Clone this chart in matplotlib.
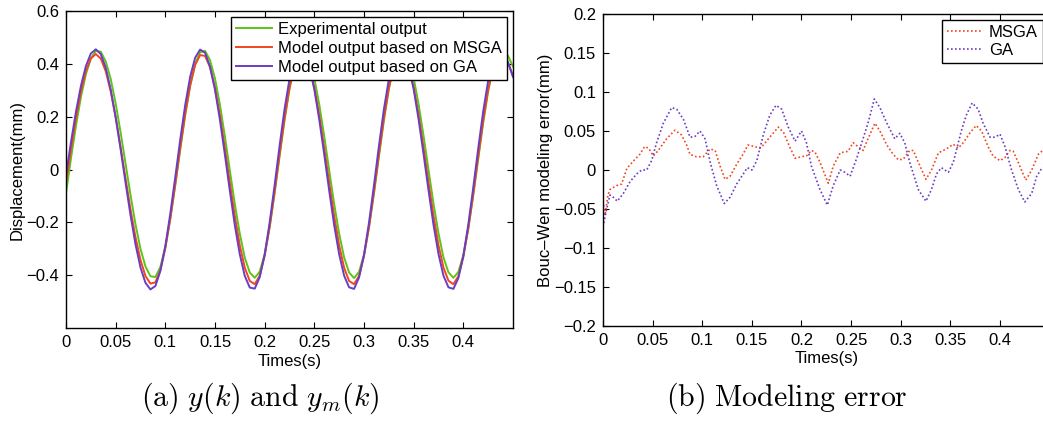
import numpy as np
import matplotlib
matplotlib.use("Agg")
import matplotlib.pyplot as plt
from matplotlib.ticker import FuncFormatter

plt.rcParams['font.family'] = ['Liberation Sans', 'DejaVu Sans']
plt.rcParams['mathtext.fontset'] = 'cm'

# ---------------- data ----------------
time_s = np.linspace(0.0, 0.45, 91)

experimental = [
    -0.090, 0.042, 0.165, 0.274, 0.360, 0.420, 0.449, 0.446, 0.409, 0.343,
    0.250, 0.140, 0.021, -0.098, -0.208, -0.301, -0.367, -0.404, -0.407, -0.369,
    -0.293, -0.187, -0.060, 0.075, 0.205, 0.316, 0.399, 0.444, 0.449, 0.414,
    0.344, 0.244, 0.124, -0.005, -0.132, -0.244, -0.334, -0.390, -0.410, -0.387,
    -0.321, -0.219, -0.091, 0.049, 0.186, 0.305, 0.394, 0.444, 0.450, 0.415,
    0.345, 0.245, 0.125, -0.004, -0.131, -0.243, -0.333, -0.390, -0.411, -0.388,
    -0.322, -0.220, -0.092, 0.048, 0.185, 0.304, 0.393, 0.443, 0.450, 0.416,
    0.346, 0.246, 0.126, -0.003, -0.130, -0.242, -0.333, -0.389, -0.410, -0.388,
    -0.324, -0.224, -0.098, 0.040, 0.176, 0.296, 0.388, 0.440, 0.452, 0.430,
    0.390,
]

model_msga = [
    -0.050, 0.076, 0.194, 0.294, 0.372, 0.420, 0.437, 0.420, 0.372, 0.296,
    0.198, 0.085, -0.035, -0.152, -0.257, -0.343, -0.403, -0.432, -0.427, -0.381,
    -0.298, -0.185, -0.054, 0.083, 0.211, 0.319, 0.396, 0.433, 0.430, 0.387,
    0.309, 0.204, 0.079, -0.052, -0.178, -0.288, -0.372, -0.422, -0.434, -0.402,
    -0.327, -0.217, -0.084, 0.058, 0.194, 0.309, 0.392, 0.433, 0.431, 0.388,
    0.310, 0.205, 0.080, -0.051, -0.177, -0.287, -0.372, -0.422, -0.434, -0.403,
    -0.328, -0.218, -0.085, 0.057, 0.193, 0.308, 0.391, 0.433, 0.431, 0.389,
    0.311, 0.206, 0.081, -0.050, -0.176, -0.287, -0.371, -0.421, -0.434, -0.404,
    -0.331, -0.223, -0.092, 0.049, 0.186, 0.302, 0.387, 0.431, 0.436, 0.405,
    0.355,
]

model_ga = [
    -0.020, 0.103, 0.218, 0.316, 0.391, 0.439, 0.455, 0.437, 0.385, 0.303,
    0.197, 0.076, -0.051, -0.174, -0.284, -0.371, -0.429, -0.454, -0.441, -0.384,
    -0.290, -0.167, -0.029, 0.113, 0.244, 0.351, 0.423, 0.454, 0.442, 0.389,
    0.302, 0.187, 0.055, -0.082, -0.212, -0.322, -0.403, -0.447, -0.451, -0.408,
    -0.322, -0.201, -0.060, 0.089, 0.228, 0.342, 0.420, 0.454, 0.443, 0.390,
    0.303, 0.188, 0.056, -0.081, -0.211, -0.321, -0.402, -0.446, -0.452, -0.409,
    -0.323, -0.202, -0.061, 0.088, 0.227, 0.341, 0.419, 0.454, 0.444, 0.391,
    0.304, 0.189, 0.057, -0.080, -0.210, -0.320, -0.402, -0.446, -0.452, -0.411,
    -0.327, -0.208, -0.068, 0.080, 0.220, 0.336, 0.416, 0.452, 0.448, 0.405,
    0.350,
]

msga_err_t = [
    0.000, 0.002, 0.005, 0.007, 0.0138, 0.0188, 0.024, 0.031, 0.037, 0.042,
    0.046, 0.0507, 0.0557, 0.064, 0.0725, 0.079, 0.084, 0.0877, 0.094, 0.101,
    0.108, 0.113, 0.118, 0.123, 0.128, 0.135, 0.141, 0.146, 0.153, 0.158,
    0.1615, 0.168, 0.1767, 0.182, 0.188, 0.1935, 0.200, 0.205, 0.210, 0.2136,
    0.2186, 0.227, 0.232, 0.239, 0.247, 0.252, 0.257, 0.262, 0.267, 0.274,
    0.279, 0.286, 0.2925, 0.2976, 0.3026, 0.309, 0.3127, 0.3177, 0.3254, 0.331,
    0.338, 0.346, 0.353, 0.358, 0.363, 0.370, 0.376, 0.3815, 0.388, 0.393,
    0.400, 0.405, 0.410, 0.4134, 0.420, 0.426, 0.432, 0.4386, 0.443, 0.450,
]
msga_err = [
    -0.040, -0.058, -0.032, -0.025, -0.020, -0.018, 0.002, 0.012, 0.020, 0.030,
    0.028, 0.018, 0.025, 0.040, 0.051, 0.045, 0.033, 0.020, 0.017, 0.017,
    0.027, 0.025, 0.005, -0.012, -0.008, 0.008, 0.020, 0.032, 0.030, 0.028,
    0.032, 0.042, 0.055, 0.048, 0.030, 0.015, 0.017, 0.018, 0.025, 0.023,
    0.010, -0.017, 0.005, 0.022, 0.024, 0.035, 0.030, 0.025, 0.040, 0.060,
    0.050, 0.032, 0.020, 0.013, 0.014, 0.025, 0.025, 0.010, -0.012, 0.000,
    0.022, 0.027, 0.033, 0.028, 0.035, 0.048, 0.057, 0.050, 0.030, 0.018,
    0.012, 0.016, 0.025, 0.024, 0.005, -0.013, 0.000, 0.020, 0.025, 0.030,
]

ga_err_t = [
    0.000, 0.0037, 0.007, 0.0104, 0.0144, 0.0205, 0.0272, 0.034, 0.039, 0.044,
    0.049, 0.054, 0.0608, 0.0692, 0.0742, 0.081, 0.0877, 0.0927, 0.0977, 0.1028,
    0.108, 0.1145, 0.1222, 0.128, 0.1347, 0.1414, 0.1454, 0.150, 0.155, 0.1615,
    0.168, 0.1743, 0.180, 0.1867, 0.1935, 0.200, 0.205, 0.210, 0.2186, 0.226,
    0.232, 0.239, 0.2438, 0.249, 0.2556, 0.262, 0.267, 0.2734, 0.279, 0.286,
    0.294, 0.299, 0.304, 0.309, 0.3177, 0.3254, 0.331, 0.336, 0.341, 0.348,
    0.353, 0.361, 0.366, 0.372, 0.378, 0.383, 0.390, 0.395, 0.400, 0.405,
    0.4117, 0.4185, 0.425, 0.432, 0.437, 0.442, 0.450,
]
ga_err = [
    -0.073, -0.050, -0.032, -0.035, -0.040, -0.030, -0.015, -0.005, 0.000, 0.000,
    0.012, 0.035, 0.060, 0.080, 0.078, 0.065, 0.042, 0.043, 0.050, 0.040,
    0.010, -0.020, -0.043, -0.035, -0.018, -0.005, 0.003, 0.000, 0.012, 0.045,
    0.070, 0.083, 0.078, 0.055, 0.037, 0.050, 0.035, 0.005, -0.025, -0.045,
    -0.020, 0.000, -0.003, -0.008, 0.015, 0.040, 0.060, 0.091, 0.080, 0.060,
    0.040, 0.047, 0.035, 0.010, -0.025, -0.040, -0.025, -0.005, 0.003, -0.003,
    0.010, 0.050, 0.070, 0.086, 0.078, 0.060, 0.042, 0.042, 0.046, 0.030,
    0.000, -0.025, -0.041, -0.030, -0.008, 0.002, 0.006,
]

left_xticks = [0, 0.05, 0.1, 0.15, 0.2, 0.25, 0.3, 0.35, 0.4]
left_yticks = [-0.4, -0.2, 0, 0.2, 0.4, 0.6]
right_xticks = [0, 0.05, 0.1, 0.15, 0.2, 0.25, 0.3, 0.35, 0.4]
right_yticks = [-0.2, -0.15, -0.1, -0.05, 0, 0.05, 0.1, 0.15, 0.2]

GREEN = '#5cc41a'
RED = '#f2461e'
PURPLE = '#6a3dc2'
FS = 12

# ---------------- figure ----------------
W, H = 1043, 422
fig = plt.figure(figsize=(W / 100, H / 100), dpi=100)


def px_axes(x0, y0, x1, y1):
    return fig.add_axes([x0 / W, 1 - y1 / H, (x1 - x0) / W, (y1 - y0) / H])


fmt = FuncFormatter(lambda v, p: ('%g' % round(v, 4)).replace('-', '\u2212'))


def style(ax):
    for s in ax.spines.values():
        s.set_linewidth(1.0)
        s.set_color('black')
    ax.tick_params(direction='in', length=4.5, width=0.8, top=True, right=True,
                   labelsize=FS, pad=5, colors='black')
    ax.xaxis.set_major_formatter(fmt)
    ax.yaxis.set_major_formatter(fmt)


def boxed_legend(ax, anchor, spacing):
    leg = ax.legend(loc='upper right', bbox_to_anchor=anchor,
                    bbox_transform=fig.transFigure, fontsize=FS, frameon=True,
                    fancybox=False, edgecolor='black', framealpha=1,
                    handlelength=2.2, handletextpad=0.35, labelspacing=spacing,
                    borderpad=0.3, borderaxespad=0)
    leg.get_frame().set_linewidth(1.0)
    return leg


# (a) displacement
ax1 = px_axes(66, 11, 513, 328)
ax1.plot(time_s, experimental, color=GREEN, lw=1.4, label='Experimental output')
ax1.plot(time_s, model_msga, color=RED, lw=1.4, label='Model output based on MSGA')
ax1.plot(time_s, model_ga, color=PURPLE, lw=1.4, label='Model output based on GA')
ax1.set_xlim(0, 0.45)
ax1.set_ylim(-0.6, 0.6)
ax1.set_xticks(left_xticks)
ax1.set_yticks(left_yticks)
style(ax1)
ax1.set_xlabel('Times(s)', fontsize=FS, labelpad=3)
ax1.set_ylabel('Displacement(mm)', fontsize=FS, labelpad=1)
boxed_legend(ax1, (507 / W, 1 - 17 / H), 0.24)

# (b) modelling error
ax2 = px_axes(603, 14, 1049.6, 326)
ax2.plot(msga_err_t, msga_err, color=RED, lw=1.2, linestyle=(0, (1, 1.4)), label='MSGA')
ax2.plot(ga_err_t, ga_err, color=PURPLE, lw=1.2, linestyle=(0, (1, 1.4)), label='GA')
ax2.set_xlim(0, 0.45)
ax2.set_ylim(-0.2, 0.2)
ax2.set_xticks(right_xticks)
ax2.set_yticks(right_yticks)
style(ax2)
ax2.set_xlabel('Times(s)', fontsize=FS, labelpad=2)
ax2.set_ylabel('Bouc\u2013Wen modeling error(mm)', fontsize=FS, labelpad=1)
boxed_legend(ax2, (1.0, 1 - 20 / H), 0.2)

# sub-captions
fig.text(0.25, 1 - 398 / H, r'$\mathrm{(a)}\ y(k)\ \mathrm{and}\ y_m(k)$',
         ha='center', va='center', fontsize=21.5)
fig.text(0.754, 1 - 398 / H, r'$\mathrm{(b)\ Modeling\ error}$',
         ha='center', va='center', fontsize=21.5)

fig.savefig('out.png', dpi=100)
